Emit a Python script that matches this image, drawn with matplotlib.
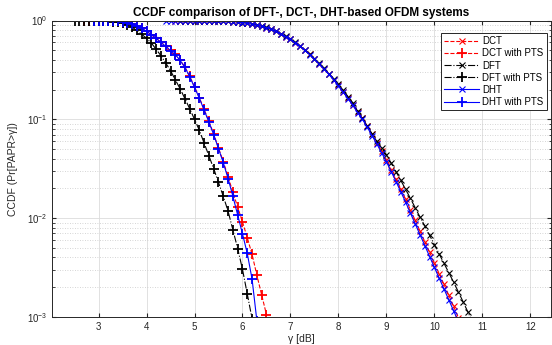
import numpy as np
import matplotlib
matplotlib.use("Agg")
import matplotlib.pyplot as plt
from matplotlib.ticker import LogLocator, NullFormatter, MultipleLocator

plt.rcParams['font.family'] = ['Liberation Sans', 'DejaVu Sans']

# -----------------------------
# Data (gamma in dB, CCDF values)
# -----------------------------
g_dht = np.round(np.arange(4.4, 10.55, 0.1), 1)
ccdf_dht = [1.0, 1.0, 1.0, 1.0, 0.9999, 0.9998, 0.9997, 0.9995, 0.9992, 0.999,
            0.997, 0.993, 0.990, 0.985, 0.978, 0.968, 0.955, 0.938, 0.918, 0.897,
            0.875, 0.851, 0.817, 0.776, 0.733, 0.689, 0.646, 0.596, 0.547, 0.498,
            0.452, 0.407, 0.363, 0.322, 0.285, 0.251, 0.219, 0.188, 0.162, 0.138,
            0.117, 0.100, 0.0832, 0.0684, 0.0562, 0.0457, 0.0372, 0.0295, 0.0234, 0.0184,
            0.0145, 0.0112, 0.00871, 0.00676, 0.00525, 0.00407, 0.00316, 0.00245, 0.00191, 0.00148,
            0.00115, 0.00089]

g_dct = np.round(np.arange(4.6, 10.55, 0.1), 1)
ccdf_dct = [1.0, 1.0, 0.9999, 0.9998, 0.9996, 0.9994, 0.9991, 0.9987, 0.997, 0.994,
            0.990, 0.984, 0.977, 0.968, 0.954, 0.939, 0.919, 0.896, 0.873, 0.849,
            0.815, 0.777, 0.735, 0.688, 0.644, 0.597, 0.549, 0.500, 0.454, 0.409,
            0.365, 0.324, 0.287, 0.253, 0.221, 0.190, 0.164, 0.140, 0.119, 0.102,
            0.0851, 0.0703, 0.0580, 0.0474, 0.0388, 0.0310, 0.0247, 0.0196, 0.0155, 0.0121,
            0.00945, 0.00737, 0.00575, 0.00448, 0.00350, 0.00272, 0.00212, 0.00165, 0.00127, 0.00098]

g_dft = np.round(np.arange(4.7, 10.85, 0.1), 1)
ccdf_dft = [1.0, 1.0, 0.9999, 0.9997, 0.9995, 0.9992, 0.9988, 0.997, 0.994, 0.990,
            0.985, 0.978, 0.969, 0.956, 0.940, 0.920, 0.899, 0.876, 0.852, 0.819,
            0.779, 0.737, 0.692, 0.649, 0.600, 0.552, 0.503, 0.457, 0.412, 0.369,
            0.328, 0.291, 0.257, 0.226, 0.196, 0.170, 0.146, 0.122, 0.103, 0.0851,
            0.0716, 0.0596, 0.0513, 0.0437, 0.0359, 0.0295, 0.0240, 0.0195, 0.0158, 0.0127,
            0.0102, 0.00832, 0.00668, 0.00537, 0.00432, 0.00347, 0.00279, 0.00224, 0.00178, 0.00141,
            0.00111, 0.00087]

g_dft_pts = np.round(np.arange(2.5, 6.25, 0.1), 1)
ccdf_dft_pts = [1.0, 1.0, 0.9999, 0.9995, 0.998, 0.9954, 0.992, 0.986, 0.973, 0.959,
                0.936, 0.902, 0.858, 0.794, 0.727, 0.661, 0.592, 0.513, 0.441, 0.372,
                0.311, 0.251, 0.204, 0.162, 0.128, 0.100, 0.0776, 0.0575, 0.0427, 0.0316,
                0.0229, 0.0166, 0.0117, 0.00759, 0.00490, 0.00302, 0.00170, 0.00095]

g_dct_pts = np.round(np.arange(2.7, 6.55, 0.1), 1)
ccdf_dct_pts = [1.0, 1.0, 1.0, 0.9998, 0.999, 0.997, 0.993, 0.983, 0.970, 0.951,
                0.923, 0.881, 0.832, 0.776, 0.719, 0.661, 0.603, 0.550, 0.501, 0.457,
                0.398, 0.339, 0.272, 0.214, 0.166, 0.126, 0.0955, 0.0708, 0.0513, 0.0372,
                0.0263, 0.0182, 0.0129, 0.00912, 0.00631, 0.00427, 0.00263, 0.00166, 0.00105]

g_dht_pts = np.round(np.arange(2.9, 6.35, 0.1), 1)
ccdf_dht_pts = [1.0, 0.9999, 0.9993, 0.998, 0.995, 0.987, 0.975, 0.955, 0.928, 0.887,
                0.836, 0.780, 0.722, 0.663, 0.601, 0.547, 0.497, 0.452, 0.395, 0.336,
                0.270, 0.211, 0.164, 0.124, 0.0940, 0.0700, 0.0505, 0.0363, 0.0251, 0.0166,
                0.0107, 0.00692, 0.00437, 0.00240, 0.00091]

# -----------------------------
# Figure
# -----------------------------
fig = plt.figure(figsize=(5.52, 3.45), dpi=100)
ax = fig.add_axes([52/552, 28.3/345, 499/552, 296.1/345])

lw = 0.8
ax.plot(g_dct, ccdf_dct, '--x', color='red', lw=lw, ms=4.5, mew=0.8, label='DCT')
ax.plot(g_dct_pts, ccdf_dct_pts, '--+', color='red', lw=lw, ms=7, mew=1.3, label='DCT with PTS')
ax.plot(g_dft, ccdf_dft, '-.x', color='black', lw=lw, ms=4.5, mew=0.8, label='DFT')
ax.plot(g_dft_pts, ccdf_dft_pts, '-.+', color='black', lw=lw, ms=7, mew=1.3, label='DFT with PTS')
ax.plot(g_dht, ccdf_dht, '-x', color='blue', lw=lw, ms=4.5, mew=0.8, label='DHT')
ax.plot(g_dht_pts, ccdf_dht_pts, '-+', color='blue', lw=lw, ms=7, mew=1.3, label='DHT with PTS')

ax.set_yscale('log')
ax.set_xlim(2.03, 12.43)
ax.set_ylim(1e-3, 1)
ax.xaxis.set_major_locator(MultipleLocator(1))
ax.yaxis.set_major_locator(LogLocator(base=10, numticks=10))
ax.yaxis.set_minor_locator(LogLocator(base=10, subs=np.arange(2, 10), numticks=10))
ax.yaxis.set_minor_formatter(NullFormatter())

ax.grid(True, which='major', color='#dcdcdc', lw=0.6, ls='-')
ax.grid(True, which='minor', axis='y', color='#c8c8c8', lw=0.6, ls=(0, (1, 2)))
ax.set_axisbelow(True)

ax.tick_params(which='both', direction='in', top=True, right=True,
               labelsize=7, colors='#262626', length=3)
ax.tick_params(which='minor', length=1.8)
for s in ax.spines.values():
    s.set_color('#262626')
    s.set_linewidth(0.7)

ax.set_title('CCDF comparison of DFT-, DCT-, DHT-based OFDM systems',
             fontsize=8.5, fontweight='bold', pad=3)
ax.set_xlabel('γ [dB]', fontsize=7.5, color='#262626', labelpad=2)
ax.set_ylabel('CCDF (Pr[PAPR>γ])', fontsize=7.5, color='#262626', labelpad=6)

leg = ax.legend(loc='upper left', bbox_to_anchor=(0.77, 0.975), fontsize=7,
                fancybox=False, framealpha=1, edgecolor='#262626',
                handlelength=3.6, handletextpad=0.3, labelspacing=0.22,
                borderpad=0.35, numpoints=1)
leg.get_frame().set_linewidth(0.7)

fig.savefig('out.png', dpi=100)
